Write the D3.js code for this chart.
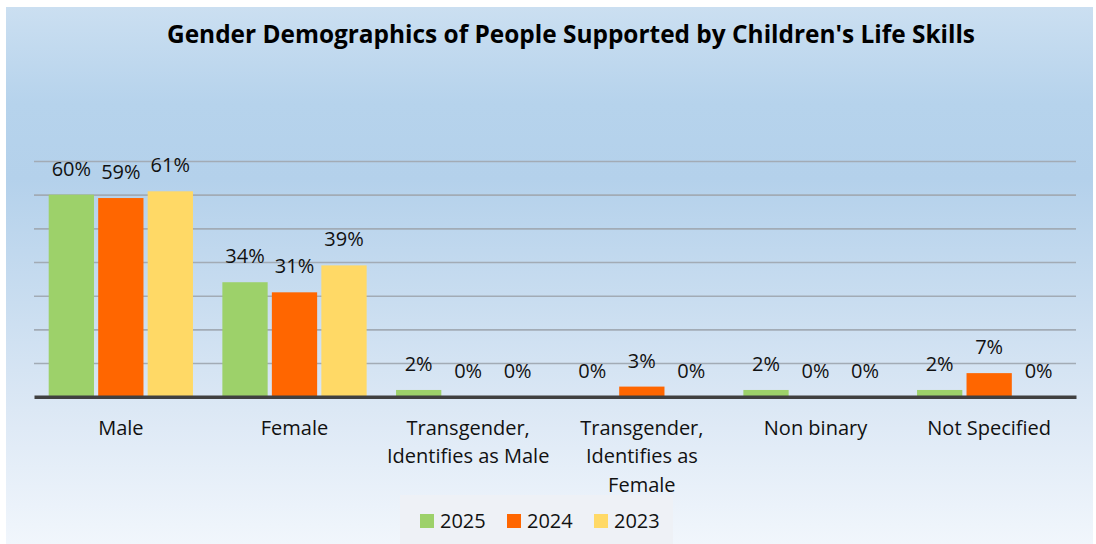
<!DOCTYPE html>
<html>
<head>
<meta charset="utf-8">
<script src="https://cdn.jsdelivr.net/npm/d3@7"></script>
<style>
  body { margin: 0; background: #ffffff; }
  svg { display: block; }
</style>
</head>
<body>
<script>
// Gender categories and share of people supported, per year (%)
const categories = [
  "Male",
  "Female",
  "Transgender, Identifies as Male",
  "Transgender, Identifies as Female",
  "Non binary",
  "Not Specified"
];
const years = ["2025", "2024", "2023"];
const values2025 = [60, 34, 2, 0, 2, 2];
const values2024 = [59, 31, 0, 3, 0, 7];
const values2023 = [61, 39, 0, 0, 0, 0];
const yTicks = [0, 10, 20, 30, 40, 50, 60, 70];
const seriesColors = ["#9dd16a", "#ff6600", "#ffd966"];
const chartTitle = "Gender Demographics of People Supported by Children's Life Skills";

const series = [values2025, values2024, values2023];

const W = 1096, H = 544;
const font = "'Open Sans', 'Noto Sans', sans-serif";

const svg = d3.select("body").append("svg")
  .attr("width", W).attr("height", H);

// background panel gradient
const defs = svg.append("defs");
const grad = defs.append("linearGradient")
  .attr("id", "bg").attr("x1", 0).attr("y1", 0).attr("x2", 0).attr("y2", 1);
[[0, "#cbdff1"], [0.18, "#b6d3ec"], [0.32, "#b4d1eb"], [0.55, "#c9ddf0"],
 [0.75, "#dce8f5"], [1, "#f1f6fc"]].forEach(([o, c]) =>
  grad.append("stop").attr("offset", o).attr("stop-color", c));

svg.append("rect")
  .attr("x", 6).attr("y", 7).attr("width", 1087).attr("height", 537)
  .attr("fill", "url(#bg)");

// title
svg.append("text")
  .attr("x", 167).attr("y", 43)
  .attr("textLength", 808).attr("lengthAdjust", "spacingAndGlyphs")
  .attr("font-family", font).attr("font-weight", "bold")
  .attr("font-size", 25).attr("fill", "#000")
  .text(chartTitle);

// scales
const x = d3.scaleBand().domain(categories).range([34, 1076]).padding(0);
const xInner = d3.scaleBand().domain(years)
  .range([14.7, x.bandwidth() - 14.7]).paddingInner(0.085).paddingOuter(0);
const y = d3.scaleLinear().domain([0, 70]).range([396.7, 161]);

// gridlines
svg.append("g")
  .attr("transform", "translate(34,0)")
  .call(d3.axisLeft(y).tickValues(yTicks.slice(1)).tickSize(-(1076 - 34)).tickFormat(""))
  .call(g => g.select(".domain").remove())
  .call(g => g.selectAll(".tick line")
    .attr("stroke", "#a2abb5").attr("stroke-width", 1.6));

// bars
const groups = svg.append("g").selectAll("g")
  .data(categories)
  .join("g")
  .attr("transform", d => `translate(${x(d)},0)`);

groups.selectAll("rect")
  .data((d, i) => years.map((yr, s) => ({ yr, v: series[s][i], s })))
  .join("rect")
  .attr("x", d => xInner(d.yr))
  .attr("y", d => y(d.v))
  .attr("width", xInner.bandwidth())
  .attr("height", d => y(0) - y(d.v))
  .attr("fill", d => seriesColors[d.s]);

// value labels
groups.selectAll("text")
  .data((d, i) => years.map((yr, s) => ({ yr, v: series[s][i] })))
  .join("text")
  .attr("x", d => xInner(d.yr) + xInner.bandwidth() / 2)
  .attr("y", d => y(d.v) - 19)
  .attr("text-anchor", "middle")
  .attr("font-family", font).attr("font-size", 20).attr("fill", "#111")
  .text(d => d.v + "%");

// baseline axis with wrapped category labels
const xAxis = svg.append("g")
  .attr("transform", `translate(0,${y(0)})`)
  .call(d3.axisBottom(x).tickSize(0).tickPadding(0));
xAxis.select(".domain")
  .attr("stroke", "#404040").attr("stroke-width", 3.5);
xAxis.selectAll(".tick text")
  .attr("font-family", font).attr("font-size", 20).attr("fill", "#111")
  .attr("y", 38).attr("dy", 0)
  .each(function (d) {
    const t = d3.select(this);
    const words = d.split(" ");
    t.text(null);
    const maxW = 168;
    let line = [], lineNo = 0;
    let tspan = t.append("tspan").attr("x", 0).attr("y", 38);
    words.forEach(w => {
      line.push(w);
      tspan.text(line.join(" "));
      if (tspan.node().getComputedTextLength() > maxW && line.length > 1) {
        line.pop();
        tspan.text(line.join(" "));
        line = [w];
        lineNo++;
        tspan = t.append("tspan").attr("x", 0).attr("y", 38 + lineNo * 28.5).text(w);
      }
    });
  });

// legend
const legend = svg.append("g");
legend.append("rect")
  .attr("x", 400).attr("y", 495).attr("width", 273).attr("height", 49)
  .attr("fill", "#eef1f6");
const items = legend.selectAll("g.item")
  .data(years)
  .join("g")
  .attr("class", "item")
  .attr("transform", (d, i) => `translate(${420 + i * 87},514)`);
items.append("rect")
  .attr("width", 14).attr("height", 14)
  .attr("fill", (d, i) => seriesColors[i]);
items.append("text")
  .attr("x", 20).attr("y", 13.5)
  .attr("font-family", font).attr("font-size", 20).attr("fill", "#111")
  .text(d => d);
</script>
</body>
</html>
